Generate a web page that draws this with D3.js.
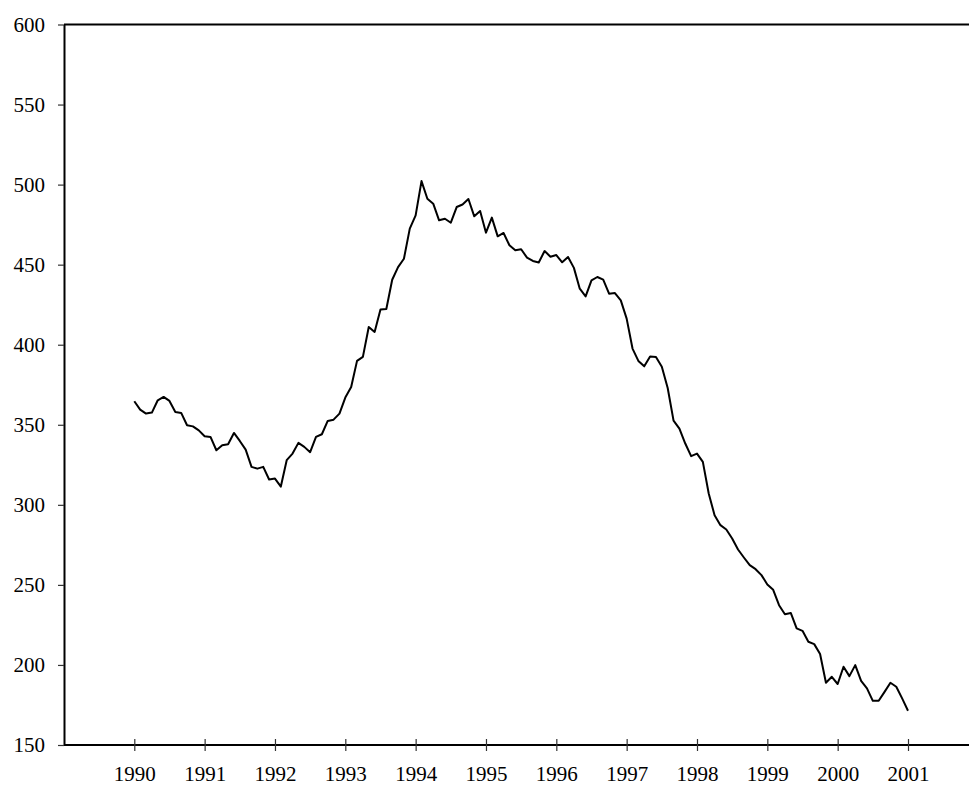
<!DOCTYPE html>
<html>
<head>
<meta charset="utf-8">
<script src="https://cdn.jsdelivr.net/npm/d3@7"></script>
<style>
    body { margin: 0; background: #fff; }
    svg { display: block; }
    .axis text { font-family: "Liberation Serif", "Times New Roman", serif; font-size: 21px; fill: #000; }
    .axis .domain { stroke: #000; stroke-width: 2; }
    .axis .tick line { stroke: #333; stroke-width: 1.2; }
</style>
</head>
<body>
<svg class="chart"></svg>
<script>

// monthly values, Jan 1990 .. Jan 2001
const START_YEAR = 1990;
const VALUES = [
    364.7, 359.5, 357.0, 357.6, 365.3, 367.4, 364.9, 358.0, 357.4, 349.7, 349.0, 346.5,
    342.8, 342.4, 334.1, 337.2, 337.8, 344.9, 339.9, 334.5, 323.7, 322.6, 323.7, 315.8,
    316.4, 311.4, 327.9, 332.0, 338.7, 336.2, 332.9, 342.4, 344.1, 352.4, 353.2, 357.0,
    367.0, 373.6, 389.9, 392.4, 411.1, 408.0, 422.0, 422.3, 440.6, 448.5, 453.7, 472.5,
    480.8, 502.2, 491.2, 488.1, 477.7, 478.7, 476.2, 486.0, 487.6, 491.0, 480.2, 483.5,
    470.0, 479.4, 467.7, 469.8, 462.1, 459.0, 459.6, 454.4, 452.3, 451.4, 458.5, 455.0,
    456.0, 451.5, 454.8, 448.0, 435.0, 430.2, 440.2, 442.3, 440.6, 431.9, 432.3, 427.7,
    416.3, 397.6, 389.9, 386.5, 392.6, 392.4, 386.3, 373.0, 352.6, 347.6, 338.3, 330.4,
    332.0, 326.8, 307.1, 293.5, 287.3, 284.6, 279.0, 272.1, 267.1, 262.3, 259.8, 256.1,
    250.3, 246.9, 237.3, 231.7, 232.5, 222.8, 221.3, 214.5, 213.0, 206.8, 188.9, 192.6,
    188.1, 198.9, 193.0, 199.9, 190.1, 185.4, 177.6, 177.6, 183.2, 188.9, 186.4, 179.1,
    171.4
];
const YEAR_TICKS = [1990, 1991, 1992, 1993, 1994, 1995, 1996, 1997, 1998, 1999, 2000, 2001];
const VALUE_TICKS = [150, 200, 250, 300, 350, 400, 450, 500, 550, 600];

const WIDTH = 969;
const HEIGHT = 787;
const LEFT = 64;
const TOP = 24.5;
const BOTTOM = 745;

const svg = d3.select('svg.chart')
    .attr('width', WIDTH)
    .attr('height', HEIGHT);

const x = d3.scaleLinear()
    .domain([1990, 2001])
    .range([134.3, 908]);

const y = d3.scaleLinear()
    .domain([150, 600])
    .range([BOTTOM, TOP]);

// top border
svg.append('line')
    .attr('x1', LEFT).attr('x2', WIDTH)
    .attr('y1', TOP).attr('y2', TOP)
    .attr('stroke', '#000')
    .attr('stroke-width', 2);

const yAxis = svg.append('g')
    .attr('class', 'axis')
    .attr('transform', 'translate(' + LEFT + ',0)')
    .call(d3.axisLeft(y)
        .tickValues(VALUE_TICKS)
        .tickSizeInner(6)
        .tickSizeOuter(0)
        .tickPadding(13));

const xAxis = svg.append('g')
    .attr('class', 'axis')
    .attr('transform', 'translate(0,' + BOTTOM + ')')
    .call(d3.axisBottom(x)
        .tickValues(YEAR_TICKS)
        .tickFormat(d3.format('d'))
        .tickSizeInner(6)
        .tickSizeOuter(0)
        .tickPadding(15));

// x axis runs the full width, ticks cross it
xAxis.select('.domain').attr('d', 'M' + LEFT + ',0H' + WIDTH);
xAxis.selectAll('.tick line').attr('y1', -6).attr('y2', 6);

const line = d3.line()
    .x((d, i) => x(START_YEAR + i / 12))
    .y(d => y(d));

svg.append('path')
    .datum(VALUES)
    .attr('fill', 'none')
    .attr('stroke', '#000')
    .attr('stroke-width', 2)
    .attr('stroke-linejoin', 'round')
    .attr('d', line);

</script>
</body>
</html>
